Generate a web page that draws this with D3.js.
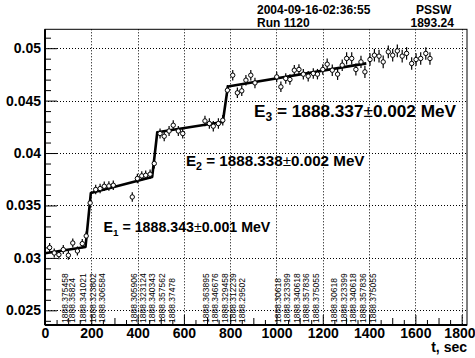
<!DOCTYPE html>
<html>
<head>
<meta charset="utf-8">
<script src="https://cdn.jsdelivr.net/npm/d3@7"></script>
<style>
body { margin: 0; background: #fff; }
text { font-family: "Liberation Sans", Arial, Helvetica, sans-serif; }
</style>
</head>
<body>
<svg id="myChart" width="475" height="358"></svg>
<script>
// measured points (t in sec)
let times = [20, 40, 60, 79, 101, 120, 140, 161, 178, 195, 219, 238, 256, 276, 295,
	377, 399, 418, 435, 454, 472, 497, 515, 536, 554, 576, 595,
	691, 710, 727, 749, 768, 788, 811, 831, 850, 868, 889, 907,
	1001, 1019, 1040, 1058, 1077, 1097, 1116, 1137, 1159, 1177, 1200, 1219, 1241, 1264, 1284,
	1303, 1325, 1343, 1365, 1382, 1404, 1423, 1443, 1461, 1483, 1502, 1522, 1543, 1562, 1584,
	1603, 1623, 1645, 1663];
let values = [0.03098, 0.03047, 0.03031, 0.03079, 0.03025, 0.03142, 0.03066, 0.03136, 0.03209, 0.03524,
	0.03652, 0.03661, 0.03683, 0.03686, 0.03693,
	0.03581, 0.03757, 0.03782, 0.03788, 0.03798, 0.03900, 0.04186, 0.04160, 0.04210, 0.04265, 0.04210, 0.04186,
	0.04306, 0.04281, 0.04256, 0.04281, 0.04313, 0.04599, 0.04742, 0.04574, 0.04593, 0.04695, 0.04742, 0.04669,
	0.04726, 0.04631, 0.04711, 0.04701, 0.04790, 0.04797, 0.04752, 0.04733, 0.04759, 0.04752, 0.04797, 0.04847,
	0.04790, 0.04752, 0.04838,
	0.04902, 0.04902, 0.04797, 0.04869, 0.04774, 0.04892, 0.04933, 0.04924, 0.04869, 0.04965, 0.04933, 0.04974,
	0.04924, 0.04950, 0.04854, 0.04892, 0.04902, 0.04950, 0.04902];
let errors = [0.00043, 0.00043, 0.00043, 0.00043, 0.00043, 0.00043, 0.00043, 0.00043, 0.00043, 0.00045,
	0.00045, 0.00045, 0.00045, 0.00045, 0.00045,
	0.00045, 0.00045, 0.00045, 0.00045, 0.00045, 0.00048, 0.00048, 0.00048, 0.00048, 0.00048, 0.00048, 0.00048,
	0.0005, 0.0005, 0.0005, 0.0005, 0.0005, 0.0005, 0.0005, 0.0005, 0.0005, 0.0005, 0.0005, 0.0005,
	0.0005, 0.0005, 0.0005, 0.0005, 0.0005, 0.0005, 0.0005, 0.0005, 0.0005, 0.0005, 0.0005, 0.00055,
	0.00055, 0.00055, 0.00055,
	0.00058, 0.00058, 0.00058, 0.00058, 0.00058, 0.0006, 0.0006, 0.0006, 0.0006, 0.0006, 0.0006, 0.0006,
	0.0006, 0.0006, 0.0006, 0.0006, 0.0006, 0.0006, 0.0006];

// fitted step function
let fitTimes = [0, 175, 198, 463, 485, 768, 790, 1388];
let fitValues = [0.03044, 0.03104, 0.03618, 0.03772, 0.04198, 0.04296, 0.04635, 0.04855];

// beam energy marks
let markTimes = [86, 118, 165, 209, 247, 386, 425, 463, 507, 547, 694, 734, 778, 813, 852,
	1008, 1047, 1087, 1127, 1171, 1250, 1292, 1332, 1372, 1416];
let markTexts = ['1888.375458', '1888.35824', '1888.341021', '1888.323802', '1888.306584',
	'1888.305906', '1888.323124', '1888.340343', '1888.357562', '1888.37478',
	'1888.363895', '1888.346676', '1888.329458', '1888.312239', '1888.29502',
	'1888.30618', '1888.323399', '1888.340618', '1888.357836', '1888.375055',
	'1888.30618', '1888.323399', '1888.340618', '1888.357836', '1888.375055'];

// fit results
let energyIndex = ['1', '2', '3'];
let energyValues = ['1888.343', '1888.338', '1888.337'];
let energyErrors = ['0.001', '0.002', '0.002'];

let xTicks = [0, 200, 400, 600, 800, 1000, 1200, 1400, 1600, 1800];
let yTicks = [0.025, 0.03, 0.035, 0.04, 0.045, 0.05];
let yTickLabels = ['0.025', '0.03', '0.035', '0.04', '0.045', '0.05'];

let svg = d3.select('#myChart');

let xScale = d3.scaleLinear()
	.domain([0, 1823])
	.range([45, 467]);

let yScale = d3.scaleLinear()
	.domain([0.0236, 0.0518])
	.range([325, 29.3]);

let plotLeft = xScale.range()[0], plotRight = xScale.range()[1];
let plotTop = yScale.range()[1], plotBottom = yScale.range()[0];

// header text
let header = svg.append('g')
	.style('font-weight', 'bold')
	.style('font-size', '12px');
header.append('text').attr('x', 257).attr('y', 13.5).text('2004-09-16-02:36:55');
header.append('text').attr('x', 257).attr('y', 27).text('Run 1120');
header.append('text').attr('x', 416).attr('y', 13.5).text('PSSW');
header.append('text').attr('x', 410.5).attr('y', 27).text('1893.24');

// grid
let grid = svg.append('g')
	.attr('stroke', '#000')
	.attr('stroke-width', 1)
	.attr('stroke-dasharray', '1,2');

grid.selectAll('.gx')
	.data(xTicks.filter(d => d > 0))
	.enter()
	.append('line')
		.attr('x1', d => Math.round(xScale(d)) + 0.5)
		.attr('x2', d => Math.round(xScale(d)) + 0.5)
		.attr('y1', plotTop)
		.attr('y2', plotBottom);

grid.selectAll('.gy')
	.data(yTicks)
	.enter()
	.append('line')
		.attr('x1', plotLeft)
		.attr('x2', plotRight)
		.attr('y1', d => Math.round(yScale(d)) + 0.5)
		.attr('y2', d => Math.round(yScale(d)) + 0.5);

// beam energy marks
svg.append('g')
	.selectAll('text')
	.data(markTimes)
	.enter()
	.append('text')
		.attr('transform', d => `translate(${xScale(d)}, 323) rotate(-90)`)
		.attr('dy', '0.35em')
		.style('font-size', '8.5px')
		.text((d, i) => markTexts[i]);

// frame
svg.append('rect')
	.attr('x', plotLeft)
	.attr('y', plotTop)
	.attr('width', plotRight - plotLeft)
	.attr('height', plotBottom - plotTop)
	.attr('fill', 'none')
	.attr('stroke', '#000')
	.attr('stroke-width', 1);

// y axis
let yMinor = d3.range(24, 52).map(d => d / 1000).filter(d => Math.round(d * 1000) % 5 !== 0);

svg.append('g')
	.attr('transform', `translate(${plotLeft}, 0)`)
	.call(d3.axisLeft(yScale).tickValues(yMinor).tickSize(-6).tickFormat(''))
	.call(g => g.select('.domain').remove());

svg.append('g')
	.attr('class', 'axis')
	.attr('transform', `translate(${plotLeft}, 0)`)
	.call(
		d3.axisLeft(yScale)
			.tickValues(yTicks)
			.tickSize(-12)
			.tickPadding(4)
			.tickFormat((d, i) => yTickLabels[i])
	)
	.call(g => g.select('.domain').attr('stroke-width', 2).attr('d', `M0,${plotTop}V${plotBottom}`))
	.selectAll('text')
		.style('font-size', '14px')
		.style('font-weight', 'bold')
		.style('font-family', '"Liberation Sans", Arial, sans-serif');

// x axis
let xMinor = d3.range(50, 1850, 50).filter(d => d % 200 !== 0);

svg.append('g')
	.attr('transform', `translate(0, ${plotBottom})`)
	.call(d3.axisBottom(xScale).tickValues(xMinor).tickSize(-6).tickFormat(''))
	.call(g => g.select('.domain').remove())
	.selectAll('.tick line')
		.attr('y2', d => d % 100 === 0 ? -7 : -5);

let xAxis = svg.append('g')
	.attr('class', 'axis')
	.attr('transform', `translate(0, ${plotBottom})`)
	.call(
		d3.axisBottom(xScale)
			.tickValues(xTicks)
			.tickSize(-10)
			.tickPadding(3)
			.tickFormat(d3.format('d'))
	)
	.call(g => g.select('.domain').attr('stroke-width', 2).attr('d', `M${plotLeft},0H${plotRight}`));

xAxis.selectAll('text')
	.style('font-size', '14px')
	.style('font-weight', 'bold')
	.style('font-family', '"Liberation Sans", Arial, sans-serif');

// last label sits against the right edge
xAxis.selectAll('.tick text')
	.filter(d => d === 1800)
	.attr('text-anchor', 'end')
	.attr('x', 475 - xScale(1800));

svg.append('text')
	.attr('x', plotRight)
	.attr('y', 352)
	.attr('text-anchor', 'end')
	.style('font-size', '14px')
	.style('font-weight', 'bold')
	.text('t, sec');

// fit line
let fitLine = d3.line()
	.x(d => xScale(fitTimes[d]))
	.y(d => yScale(fitValues[d]));

svg.append('path')
	.attr('d', fitLine(d3.range(fitTimes.length)))
	.attr('fill', 'none')
	.attr('stroke', '#000')
	.attr('stroke-width', 2.6)
	.attr('stroke-linejoin', 'round');

// error bars and markers
let points = svg.append('g')
	.selectAll('g')
	.data(times)
	.enter()
	.append('g');

points.append('line')
	.attr('x1', d => xScale(d))
	.attr('x2', d => xScale(d))
	.attr('y1', (d, i) => yScale(values[i] - errors[i]))
	.attr('y2', (d, i) => yScale(values[i] + errors[i]))
	.attr('stroke', '#000')
	.attr('stroke-width', 1.2);

points.append('circle')
	.attr('cx', d => xScale(d))
	.attr('cy', (d, i) => yScale(values[i]))
	.attr('r', 2.2)
	.attr('fill', '#fff')
	.attr('stroke', '#000')
	.attr('stroke-width', 1);

// fit result labels: anchor (t, value) and font size
let labelAt = [[253, 0.03244, 14.2], [609, 0.03874, 15.2], [903, 0.04342, 17.2]];

let eText = svg.append('g')
	.selectAll('text')
	.data(energyIndex)
	.enter()
	.append('text')
		.attr('x', (d, i) => xScale(labelAt[i][0]))
		.attr('y', (d, i) => yScale(labelAt[i][1]))
		.style('font-size', (d, i) => labelAt[i][2] + 'px')
		.style('font-weight', 'bold');

eText.append('tspan').text('E');
eText.append('tspan')
	.attr('dy', (d, i) => labelAt[i][2] * 0.25)
	.style('font-size', (d, i) => labelAt[i][2] * 0.7 + 'px')
	.text(d => d);
eText.append('tspan')
	.attr('dy', (d, i) => -labelAt[i][2] * 0.25)
	.text((d, i) => ' = ' + energyValues[i]);
eText.append('tspan').style('font-weight', 'normal').text('\u00b1');
eText.append('tspan').text((d, i) => energyErrors[i] + ' MeV');
</script>
</body>
</html>
